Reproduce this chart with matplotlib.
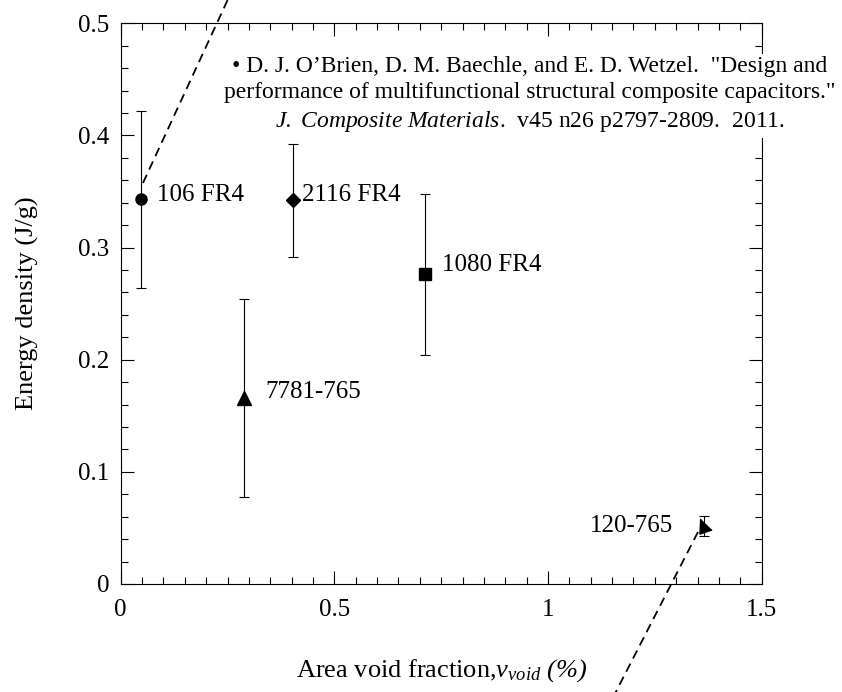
import matplotlib
matplotlib.use('Agg')
import matplotlib.pyplot as plt
from matplotlib.ticker import MultipleLocator

plt.rcParams['font.family'] = ['Liberation Serif', 'DejaVu Serif']
plt.rcParams['mathtext.fontset'] = 'custom'
plt.rcParams['mathtext.rm'] = 'Liberation Serif:italic'
plt.rcParams['mathtext.it'] = 'Liberation Serif:italic'

# data
labels = ['106 FR4', '2116 FR4', '1080 FR4', '7781-765', '120-765']
void_frac = [0.047, 0.404, 0.712, 0.289, 1.365]
energy = [0.343, 0.342, 0.276, 0.166, 0.052]
energy_err = [0.079, 0.050, 0.072, 0.088, 0.009]
markers = ['o', 'D', 's', '^', [(-0.5, 1), (-0.6, -1), (1, -0.45)]]
marker_sizes = [8, 7, 9, 10, 11]
# label offsets (points) from each marker
label_dx = [12, 6, 12, 15, -22]
label_dy = [3, 4, 7, 4, 0]
label_ha = ['left', 'left', 'left', 'left', 'right']

# dashed leader lines (data coords)
lead1_x = [0.052, 0.26]
lead1_y = [0.3576, 0.5289]
lead2_x = [1.351, 1.155]
lead2_y = [0.0464, -0.099]

citation = ('\u2022 D. J. O\u2019Brien, D. M. Baechle, and E. D. Wetzel.  "Design and\n'
            'performance of multifunctional structural composite capacitors."\n'
            '$J.\\ Composite\\ Materials$.  v45 n26 p2797-2809.  2011.')

fig = plt.figure(figsize=(8.42, 6.92), dpi=100)
ax = fig.add_axes([0.1434, 0.1561, 0.9046 - 0.1434, 0.9663 - 0.1561])

for x, y, e, m, ms in zip(void_frac, energy, energy_err, markers, marker_sizes):
    ax.errorbar(x, y, yerr=e, fmt='none', ecolor='black', elinewidth=0.8,
                capsize=3.6, capthick=0.8, zorder=2)
    ax.plot(x, y, marker=m, markersize=ms, color='black', linestyle='none', zorder=3)

for lab, x, y, dx, dy, ha in zip(labels, void_frac, energy, label_dx, label_dy, label_ha):
    ax.annotate(lab, (x, y), xytext=(dx, dy), textcoords='offset points',
                ha=ha, va='center', fontsize=18)

for lx, ly in [(lead1_x, lead1_y), (lead2_x, lead2_y)]:
    ax.plot(lx, ly, color='black', linestyle=(0, (5, 3.2)), linewidth=1.3,
            clip_on=False, zorder=4)

ax.set_xlim(0, 1.5)
ax.set_ylim(0, 0.5)
ax.xaxis.set_minor_locator(MultipleLocator(0.05))
ax.yaxis.set_minor_locator(MultipleLocator(0.02))
ax.set_xticks([0, 0.5, 1, 1.5])
ax.set_xticklabels(['0', '0.5', '1', '1.5'], fontsize=18)
ax.set_yticks([0, 0.1, 0.2, 0.3, 0.4, 0.5])
ax.set_yticklabels(['0', '0.1', '0.2', '0.3', '0.4', '0.5'], fontsize=18)
ax.tick_params(which='both', direction='in', top=True, right=True, width=0.8)
ax.tick_params(which='major', length=9.5)
ax.tick_params(axis='x', which='major', pad=11)
ax.tick_params(axis='y', which='major', pad=8)
ax.tick_params(which='minor', length=5)
for s in ax.spines.values():
    s.set_linewidth(0.8)

ax.set_ylabel('Energy density (J/g)', fontsize=19, labelpad=28)
ax.set_xlabel('Area void fraction,$v_{void}\\ (\\%)$', fontsize=19, labelpad=26)

fig.text(530 / 842, 1 - 95 / 692, citation, ha='center', va='center',
         multialignment='center', fontsize=17, linespacing=1.33, zorder=10,
         bbox=dict(facecolor='white', edgecolor='none', pad=3))

fig.savefig('out.png', dpi=100)
